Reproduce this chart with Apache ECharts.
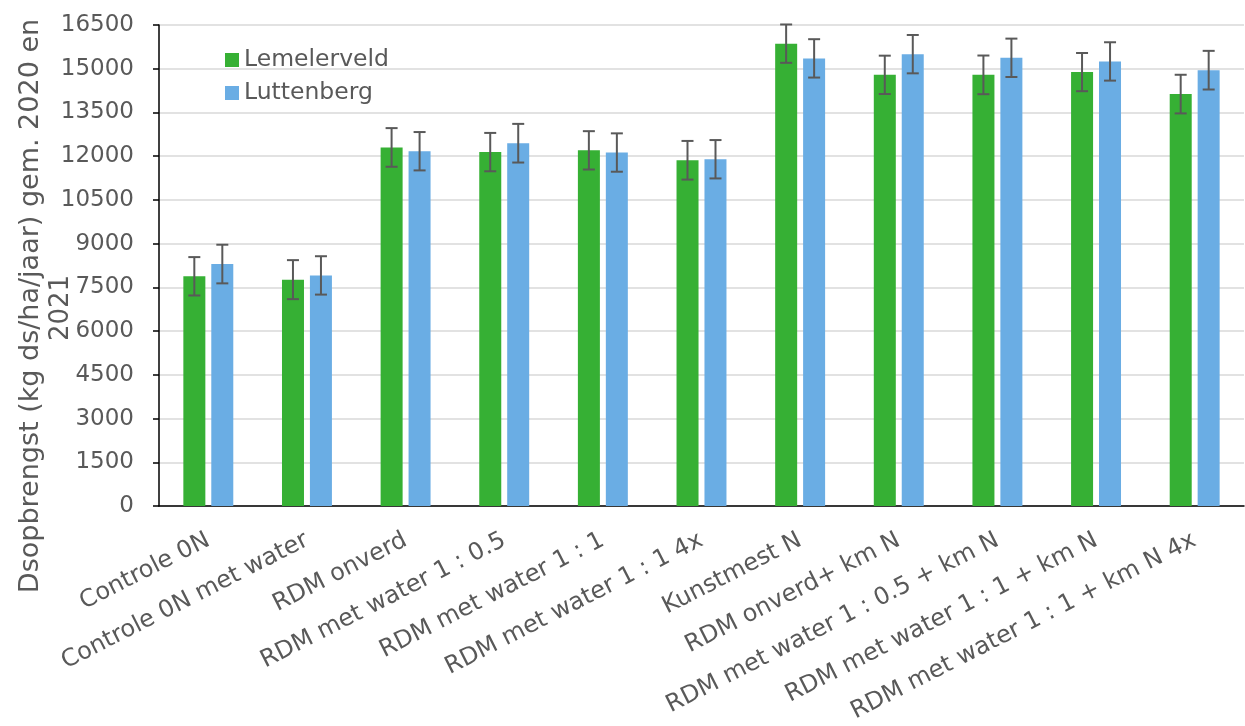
<!DOCTYPE html>
<html>
<head>
<meta charset="utf-8">
<script src="https://cdn.jsdelivr.net/npm/echarts@6/dist/echarts.min.js"></script>
<style>
html,body{margin:0;padding:0;background:#fff;}
#chart{width:1245px;height:726px;}
</style>
</head>
<body>
<div id="chart"></div>
<script>
var categories = ['Controle 0N','Controle 0N met water','RDM onverd','RDM met water 1 : 0.5','RDM met water 1 : 1','RDM met water 1 : 1 4x','Kunstmest N','RDM onverd+ km N','RDM met water 1 : 0.5 + km N','RDM met water 1 : 1 + km N','RDM met water 1 : 1 + km N 4x'];
var lemelerveld = [7880, 7765, 12300, 12140, 12200, 11860, 15860, 14790, 14790, 14885, 14130];
var luttenberg  = [8300, 7910, 12170, 12445, 12125, 11895, 15355, 15500, 15375, 15250, 14950];
var lemelerveldErr = [658, 669, 663, 658, 658, 663, 658, 658, 663, 655, 663];
var luttenbergErr  = [663, 658, 658, 663, 658, 658, 658, 658, 658, 658, 663];
var yTicks = [0,1500,3000,4500,6000,7500,9000,10500,12000,13500,15000,16500];
var yTitle1 = 'Dsopbrengst (kg ds/ha/jaar) gem. 2020 en';
var yTitle2 = '2021';

var FONT = 'DejaVu Sans';
var TXT = '#595959';
var BAR_W = 22, BAR_OFF = 14;

function errSeries(vals, errs, off){
  return {
    type:'custom',
    z:10,
    silent:true,
    data: vals.map(function(v,i){return [i, v-errs[i], v+errs[i]];}),
    renderItem:function(params, api){
      var i = api.value(0);
      var lo = api.coord([i, api.value(1)]);
      var hi = api.coord([i, api.value(2)]);
      var x = lo[0] + off;
      var cap = 6;
      var st = {stroke:'#595959', lineWidth:2};
      return {type:'group', children:[
        {type:'line', shape:{x1:x,y1:lo[1],x2:x,y2:hi[1]}, style:st},
        {type:'line', shape:{x1:x-cap,y1:lo[1],x2:x+cap,y2:lo[1]}, style:st},
        {type:'line', shape:{x1:x-cap,y1:hi[1],x2:x+cap,y2:hi[1]}, style:st}
      ]};
    }
  };
}

var chart = echarts.init(document.getElementById('chart'));
chart.setOption({
  animation:false,
  backgroundColor:'#fff',
  textStyle:{fontFamily:FONT},
  grid:{left:159, right:1, top:25, bottom:220},
  legend:{
    data:['Lemelerveld','Luttenberg'],
    orient:'vertical', left:225, top:48, padding:0,
    itemWidth:14, itemHeight:14, itemGap:9, icon:'rect',
    textStyle:{fontSize:23.5, lineHeight:24, color:TXT, fontFamily:FONT}
  },
  xAxis:{
    type:'category', data:categories,
    axisLine:{lineStyle:{color:'#000', width:1.5}},
    axisTick:{show:false},
    axisLabel:{interval:0, rotate:27, fontSize:24, color:TXT, margin:33, fontFamily:FONT}
  },
  yAxis:{
    type:'value', min:yTicks[0], max:yTicks[yTicks.length-1], interval:yTicks[1]-yTicks[0],
    axisLine:{show:true, lineStyle:{color:'#000', width:1.5}},
    axisTick:{show:true, inside:false, length:6, lineStyle:{color:'#000', width:1.5}},
    axisLabel:{fontSize:23, color:TXT, margin:25, fontFamily:FONT, formatter:function(v){return String(v);}},
    splitLine:{lineStyle:{color:'#d9d9d9', width:1.5}}
  },
  graphic:[
    {type:'text', x:31, y:306, rotation:Math.PI/2,
     style:{text:yTitle1, fill:TXT, font:'27px "DejaVu Sans"', align:'center', verticalAlign:'middle'}},
    {type:'text', x:61, y:308, rotation:Math.PI/2,
     style:{text:yTitle2, fill:TXT, font:'26px "DejaVu Sans"', align:'center', verticalAlign:'middle'}}
  ],
  series:[
    {name:'Lemelerveld', type:'bar', data:lemelerveld, barWidth:BAR_W, barGap:'27%',
     itemStyle:{color:'#36b034'}},
    {name:'Luttenberg', type:'bar', data:luttenberg, barWidth:BAR_W, barGap:'27%',
     itemStyle:{color:'#6aade4'}},
    errSeries(lemelerveld, lemelerveldErr, -BAR_OFF),
    errSeries(luttenberg, luttenbergErr, BAR_OFF)
  ]
});
</script>
</body>
</html>
